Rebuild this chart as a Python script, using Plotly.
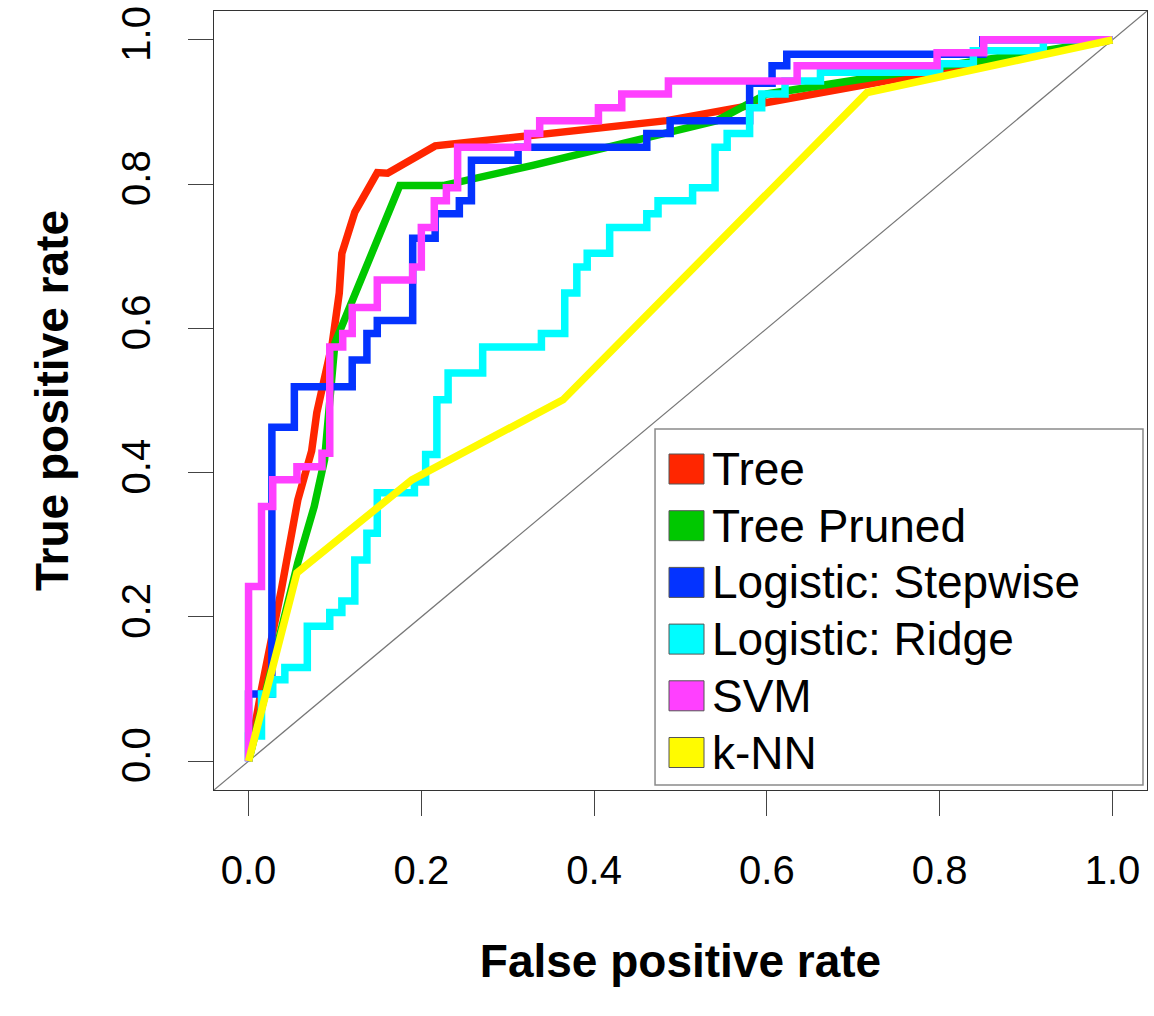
import plotly.graph_objects as go

# ROC curves (false positive rate, true positive rate)
tree_fpr = [0, 0.015, 0.038, 0.057, 0.073, 0.079, 0.097, 0.105, 0.108, 0.123, 0.149, 0.161, 0.216, 0.484, 1]
tree_tpr = [0, 0.1, 0.238, 0.362, 0.43, 0.483, 0.58, 0.649, 0.704, 0.761, 0.816, 0.815, 0.853, 0.888, 1]

pruned_fpr = [0, 0.057, 0.076, 0.088, 0.1, 0.175, 0.225, 0.329, 0.542, 0.6, 1]
pruned_tpr = [0, 0.275, 0.353, 0.418, 0.58, 0.798, 0.798, 0.826, 0.888, 0.925, 1]

step_fpr = [0, 0.027, 0.053, 0.12, 0.137, 0.149, 0.19, 0.216, 0.244, 0.258, 0.312, 0.461, 0.488,
            0.58, 0.606, 0.623, 0.85, 1]
step_tpr = [0, 0.093, 0.463, 0.519, 0.556, 0.593, 0.611, 0.725, 0.759, 0.777, 0.833, 0.851, 0.87,
            0.888, 0.94, 0.964, 0.98, 1]

ridge_fpr = [0, 0.015, 0.028, 0.042, 0.068, 0.094, 0.108, 0.123, 0.137, 0.149, 0.192, 0.205, 0.218,
             0.231, 0.271, 0.339, 0.366, 0.38, 0.392, 0.418, 0.461, 0.474, 0.514, 0.54, 0.554, 0.58,
             0.594, 0.621, 0.662, 0.8, 0.839, 0.92, 1]
ridge_tpr = [0, 0.035, 0.093, 0.113, 0.13, 0.187, 0.206, 0.222, 0.279, 0.316, 0.372, 0.387, 0.425,
             0.501, 0.538, 0.574, 0.593, 0.649, 0.685, 0.704, 0.74, 0.759, 0.777, 0.795, 0.851, 0.87,
             0.906, 0.925, 0.943, 0.955, 0.967, 0.985, 1]

svm_fpr = [0, 0.015, 0.028, 0.056, 0.085, 0.094, 0.109, 0.12, 0.149, 0.19, 0.2, 0.215, 0.229, 0.242,
           0.323, 0.337, 0.405, 0.432, 0.486, 0.635, 0.797, 0.851, 1]
svm_tpr = [0, 0.242, 0.353, 0.39, 0.408, 0.427, 0.574, 0.593, 0.629, 0.667, 0.685, 0.74, 0.777, 0.795,
           0.851, 0.87, 0.888, 0.906, 0.925, 0.943, 0.964, 0.982, 1]

knn_fpr = [0, 0.056, 0.189, 0.364, 0.716, 1]
knn_tpr = [0, 0.261, 0.39, 0.501, 0.927, 1]

names = ["Tree", "Tree Pruned", "Logistic: Stepwise", "Logistic: Ridge", "SVM", "k-NN"]
colors = ["#FF2600", "#00C800", "#0433FF", "#00FDFF", "#FF40FF", "#FFFB00"]
shapes_ = ["linear", "linear", "vh", "vh", "vh", "linear"]
curves = [(tree_fpr, tree_tpr), (pruned_fpr, pruned_tpr), (step_fpr, step_tpr),
          (ridge_fpr, ridge_tpr), (svm_fpr, svm_tpr), (knn_fpr, knn_tpr)]

ticks = [0, 0.2, 0.4, 0.6, 0.8, 1.0]
AX_MIN, AX_MAX = -0.04, 1.04
FONT = "Liberation Sans, Arial, Helvetica, sans-serif"

fig = go.Figure()

for (fx, ty), nm, c, sh in zip(curves, names, colors, shapes_):
    fig.add_trace(go.Scatter(x=fx, y=ty, mode="lines", name=nm,
                             line=dict(color=c, width=7.5, shape=sh),
                             showlegend=False))

# diagonal reference line y = x
fig.add_shape(type="line", xref="x", yref="y", x0=AX_MIN, y0=AX_MIN, x1=AX_MAX, y1=AX_MAX,
              line=dict(color="#777777", width=1.2), layer="below")

# hand-built legend box, R style (paper coords of a 933x779 plot area)
lx0, lx1, ly0, ly1 = 0.4727, 0.9957, 0.0064, 0.4634
fig.add_shape(type="rect", xref="paper", yref="paper", x0=lx0, x1=lx1, y0=ly0, y1=ly1,
              fillcolor="white", line=dict(color="#8a8a8a", width=1.5), layer="above")
row_top = (790 - 469) / 779
row_step = 56.7 / 779
sw_w = 35 / 933
sw_h = 30 / 779
for i, (nm, c) in enumerate(zip(names, colors)):
    yc = row_top - i * row_step
    fig.add_shape(type="rect", xref="paper", yref="paper",
                  x0=(669 - 214) / 933, x1=(669 - 214) / 933 + sw_w,
                  y0=yc - sw_h / 2, y1=yc + sw_h / 2,
                  fillcolor=c, line=dict(color="#555555", width=1), layer="above")
    fig.add_annotation(xref="paper", yref="paper", x=(710 - 214) / 933, y=yc,
                       text=nm, showarrow=False, xanchor="left", yanchor="middle",
                       font=dict(family=FONT, size=46, color="black"))

axis_common = dict(range=[AX_MIN, AX_MAX], tickvals=ticks, tickformat=".1f",
                   showgrid=False, zeroline=False, showline=True, mirror=True,
                   linecolor="#333333", linewidth=1.2, ticks="outside", ticklen=25,
                   tickwidth=1.2, tickcolor="#444444", automargin=False,
                   ticklabeloverflow="allow",
                   tickfont=dict(family=FONT, size=40, color="black"))

fig.update_xaxes(**axis_common, ticklabelstandoff=20,
                 title=dict(text="<b>False positive rate</b>", standoff=53,
                            font=dict(family=FONT, size=46, color="black")))
fig.update_yaxes(**axis_common, tickangle=-90, ticklabelstandoff=22,
                 title=dict(text="<b>True positive rate</b>", standoff=30,
                            font=dict(family=FONT, size=46, color="black")))

fig.update_layout(width=1154, height=1016, plot_bgcolor="white", paper_bgcolor="white",
                  margin=dict(l=214, r=7, t=11, b=226), showlegend=False)

# drop the browser's default 8px body margin so the figure fills the window
fig.write_html("out.html", config={"displayModeBar": False},
               post_script="document.body.style.margin = '0';")
